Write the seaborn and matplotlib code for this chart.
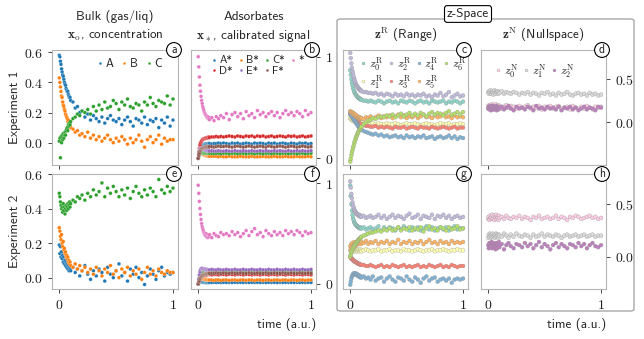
import numpy as np
import pandas as pd
import matplotlib
matplotlib.use('Agg')
import matplotlib.pyplot as plt
import seaborn as sns
from matplotlib.patches import FancyBboxPatch

# ── Data ───────────────────────────────────────────────────────────────────────
t = [0.000, 0.005, 0.010, 0.015, 0.020, 0.025, 0.030, 0.035, 0.040, 0.045,
     0.050, 0.055, 0.060, 0.065, 0.070, 0.075, 0.080, 0.085, 0.090, 0.095,
     0.100, 0.120, 0.140, 0.160, 0.180, 0.200, 0.225, 0.250, 0.275, 0.300,
     0.325, 0.350, 0.375, 0.400, 0.425, 0.450, 0.475, 0.500, 0.525, 0.550,
     0.575, 0.600, 0.625, 0.650, 0.675, 0.700, 0.725, 0.750, 0.775, 0.800,
     0.825, 0.850, 0.875, 0.900, 0.925, 0.950, 0.975, 1.000]

# (a) bulk, experiment 1
a_A = [.58, .57, .54, .52, .49, .47, .45, .44, .42, .40,
       .39, .38, .36, .35, .34, .34, .32, .31, .30, .30,
       .28, .27, .23, .24, .20, .21, .17, .19, .15, .18,
       .16, .14, .17, .13, .16, .18, .15, .14, .16, .12,
       .15, .17, .14, .11, .16, .15, .13, .17, .12, .15,
       .14, .16, .10, .15, .13, .17, .11, .15]
a_B = [.43, .40, .37, .34, .31, .30, .27, .25, .24, .22,
       .21, .19, .18, .17, .16, .14, .15, .13, .12, .11,
       .10, .09, .07, .08, .05, .06, .04, .07, .03, .05,
       .02, .04, .01, .03, .05, .02, .00, .03, .01, .04,
       .02, -.01, .03, .00, .02, .05, .01, -.03, .02, .04,
       .00, .02, .05, -.01, .03, .01, .02, .02]
a_C = [.01, .03, -.10, .04, .00, .05, .02, .06, .03, .05,
       .07, .05, .08, .09, .10, .08, .12, .11, .13, .12,
       .14, .16, .17, .19, .18, .21, .20, .22, .19, .24,
       .21, .25, .22, .27, .23, .24, .28, .26, .22, .27,
       .25, .29, .24, .23, .26, .25, .21, .27, .25, .30,
       .26, .24, .28, .27, .26, .31, .25, .29]

# (b) adsorbates, experiment 1
b_A = [.00, .04, .07, .09, .10, .11, .12, .125, .13, .13,
       .135, .135, .14, .14, .14, .14, .14, .145, .14, .145,
       .145, .14, .145, .145, .15, .145, .15, .145, .14, .15,
       .145, .15, .14, .145, .15, .145, .14, .15, .145, .15,
       .145, .14, .15, .145, .15, .14, .145, .15, .145, .14,
       .15, .145, .14, .15, .145, .15, .14, .145]
b_B = [.00, .04, .055, .06, .06, .055, .05, .045, .04, .04,
       .035, .035, .03, .03, .03, .025, .025, .025, .025, .02,
       .02, .02, .02, .02, .015, .02, .015, .015, .02, .015,
       .015, .015, .02, .015, .015, .015, .02, .015, .015, .015,
       .02, .015, .015, .015, .02, .015, .015, .015, .02, .015,
       .015, .015, .02, .015, .015, .015, .02, .015]
b_C = [.00, .02, .035, .045, .05, .055, .055, .055, .055, .055,
       .05, .05, .05, .05, .05, .05, .05, .05, .05, .05,
       .05, .05, .045, .05, .05, .045, .05, .05, .045, .05,
       .05, .045, .05, .05, .045, .05, .05, .045, .05, .05,
       .045, .05, .05, .045, .05, .05, .045, .05, .05, .045,
       .05, .05, .045, .05, .05, .045, .05, .05]
b_D = [.00, .06, .10, .13, .15, .16, .17, .18, .185, .19,
       .19, .195, .195, .20, .20, .20, .205, .20, .205, .21,
       .205, .21, .21, .215, .21, .215, .21, .215, .22, .215,
       .21, .22, .215, .21, .22, .215, .22, .21, .22, .215,
       .22, .21, .215, .22, .21, .215, .22, .215, .21, .22,
       .215, .22, .21, .215, .22, .21, .215, .22]
b_E = [.00, .04, .07, .09, .10, .10, .10, .095, .09, .09,
       .085, .085, .08, .08, .08, .075, .075, .075, .075, .07,
       .07, .075, .07, .07, .075, .07, .07, .075, .07, .07,
       .075, .07, .07, .075, .07, .07, .075, .07, .07, .075,
       .07, .075, .07, .07, .075, .07, .075, .07, .07, .075,
       .07, .07, .075, .07, .075, .07, .07, .075]
b_F = [.00, .03, .05, .07, .08, .09, .095, .10, .10, .105,
       .105, .11, .11, .11, .11, .115, .11, .115, .115, .11,
       .115, .115, .11, .115, .12, .115, .115, .12, .115, .11,
       .115, .12, .115, .11, .115, .12, .115, .11, .115, .12,
       .115, .11, .12, .115, .11, .115, .12, .115, .11, .115,
       .12, .115, .11, .115, .12, .115, .11, .115]
b_star = [1.00, .90, .80, .72, .66, .61, .57, .54, .51, .49,
          .47, .45, .44, .43, .42, .41, .40, .41, .39, .40,
          .38, .40, .37, .41, .39, .42, .40, .44, .38, .43,
          .45, .41, .44, .39, .46, .42, .44, .40, .47, .43,
          .45, .41, .44, .46, .42, .45, .40, .44, .47, .43,
          .45, .42, .46, .44, .41, .47, .43, .45]

# (c) range space, experiment 1
c_z0 = [.60, .55, .50, .46, .43, .40, .38, .36, .34, .33,
        .32, .31, .30, .29, .29, .28, .28, .27, .27, .26,
        .26, .25, .25, .24, .25, .24, .23, .25, .24, .22,
        .24, .25, .23, .24, .22, .25, .24, .23, .25, .24,
        .22, .24, .25, .23, .24, .22, .25, .24, .23, .24,
        .25, .22, .24, .23, .25, .24, .22, .24]
c_z1 = [.05, .04, .03, .04, .02, .03, .02, .01, .02, .01,
        .00, .01, .00, .01, -.01, .00, -.01, .00, -.01, -.01,
        .00, -.01, -.02, -.01, -.02, -.01, -.02, -.01, -.02, -.02,
        -.01, -.02, -.02, -.01, -.02, -.03, -.02, -.01, -.02, -.02,
        -.01, -.02, -.03, -.02, -.01, -.02, -.02, -.03, -.02, -.01,
        -.02, -.02, -.01, -.03, -.02, -.02, -.01, -.02]
c_z2 = [.80, .74, .68, .63, .59, .56, .53, .50, .48, .46,
        .44, .43, .42, .41, .40, .39, .38, .38, .37, .37,
        .36, .35, .35, .34, .34, .33, .34, .32, .33, .31,
        .33, .32, .30, .33, .31, .32, .30, .33, .31, .32,
        .30, .32, .31, .33, .30, .31, .29, .32, .31, .34,
        .30, .32, .35, .29, .31, .33, .30, .31]
c_z3 = [.10, .09, .08, .07, .06, .06, .05, .04, .03, .03,
        .02, .02, .01, .01, .00, .00, -.01, -.01, -.02, -.02,
        -.02, -.03, -.04, -.04, -.05, -.05, -.04, -.06, -.05, -.06,
        -.05, -.06, -.07, -.05, -.06, -.06, -.05, -.07, -.06, -.05,
        -.06, -.07, -.05, -.06, -.06, -.07, -.05, -.06, -.07, -.06,
        -.05, -.06, -.07, -.06, -.05, -.07, -.06, -.06]
c_z4 = [.10, .09, .08, .07, .06, .05, .04, .03, .02, .01,
        .00, -.01, -.02, -.03, -.04, -.05, -.06, -.06, -.07, -.08,
        -.08, -.10, -.11, -.12, -.13, -.14, -.13, -.15, -.14, -.16,
        -.15, -.17, -.16, -.15, -.17, -.16, -.18, -.15, -.17, -.16,
        -.18, -.16, -.17, -.15, -.18, -.17, -.16, -.19, -.17, -.16,
        -.18, -.17, -.15, -.18, -.16, -.19, -.17, -.18]
c_z5 = [.13, .12, .11, .12, .10, .11, .09, .10, .08, .09,
        .07, .08, .06, .07, .05, .06, .05, .06, .04, .05,
        .05, .04, .06, .05, .07, .05, .06, .08, .05, .07,
        .06, .08, .05, .07, .09, .06, .08, .05, .07, .06,
        .08, .05, .07, .09, .06, .07, .05, .08, .06, .07,
        .09, .06, .07, .05, .08, .06, .07, .06]
c_z6 = [-.45, -.42, -.38, -.35, -.32, -.29, -.27, -.24, -.22, -.20,
        -.18, -.16, -.15, -.13, -.12, -.10, -.09, -.08, -.07, -.06,
        -.05, -.02, .00, .02, .03, .05, .04, .06, .07, .06,
        .08, .07, .09, .06, .08, .10, .07, .09, .11, .08,
        .10, .08, .11, .09, .07, .10, .12, .09, .11, .10,
        .08, .11, .13, .09, .10, .12, .09, .12]

# (d) null space, experiment 1
d_z0 = [.19, .17, .20, .18, .16, .19, .21, .17, .18, .20,
        .16, .19, .18, .21, .17, .19, .16, .18, .20, .17,
        .19, .16, .18, .20, .17, .19, .18, .16, .19, .17,
        .18, .20, .16, .18, .17, .19, .15, .18, .17, .19,
        .16, .18, .19, .16, .17, .18, .15, .19, .17, .16,
        .18, .16, .19, .17, .15, .18, .17, .18]
d_z1 = [.35, .33, .36, .34, .37, .33, .35, .36, .34, .32,
        .35, .37, .34, .33, .36, .35, .34, .36, .33, .35,
        .34, .36, .33, .35, .34, .33, .35, .34, .32, .34,
        .33, .35, .32, .34, .33, .31, .34, .33, .35, .32,
        .33, .31, .34, .32, .33, .35, .32, .31, .33, .34,
        .32, .33, .31, .34, .32, .33, .31, .32]
d_z2 = [.16, .18, .15, .19, .17, .14, .18, .16, .19, .15,
        .17, .15, .18, .16, .19, .14, .17, .18, .15, .17,
        .16, .18, .15, .17, .19, .16, .14, .18, .16, .17,
        .15, .18, .17, .14, .19, .16, .17, .15, .18, .16,
        .17, .15, .18, .14, .17, .16, .18, .15, .17, .14,
        .16, .18, .15, .17, .16, .14, .18, .17]

# (e) bulk, experiment 2
e_A = [.19, .14, .18, .12, .15, .11, .13, .09, .12, .08,
       .10, .07, .09, .06, .08, .05, .07, .04, .06, .05,
       .04, .06, .03, .05, .01, .04, .07, .02, -.01, .04,
       .01, .05, .03, -.02, .06, .02, .00, .04, .08, .01,
       .03, -.02, .05, .02, .06, .00, .03, -.04, .01, .05,
       .02, -.01, .04, .06, .01, .03, .02, .03]
e_B = [.29, .27, .24, .22, .25, .20, .18, .21, .16, .17,
       .14, .15, .12, .13, .11, .12, .09, .10, .08, .09,
       .07, .06, .08, .05, .07, .04, .06, .03, .05, .02,
       .06, .04, .01, .05, .03, .07, .02, .04, .00, .05,
       .03, .06, .01, .04, .02, .05, -.01, .03, .06, .02,
       .04, .01, .05, .03, .02, .04, .03, .03]
e_C = [.49, .47, .44, .42, .40, .41, .38, .43, .39, .41,
       .37, .40, .42, .39, .41, .43, .40, .42, .44, .41,
       .43, .45, .44, .47, .46, .48, .45, .49, .47, .51,
       .48, .50, .55, .47, .52, .49, .53, .50, .47, .51,
       .48, .52, .46, .50, .53, .49, .47, .51, .48, .52,
       .50, .47, .57, .51, .49, .53, .50, .52]

# (f) adsorbates, experiment 2
f_A = [.00, .008, .012, .015, .017, .018, .018, .018, .017, .017,
       .017, .016, .016, .016, .016, .015, .016, .015, .016, .015,
       .016, .015, .016, .015, .016, .015, .016, .015, .016, .015,
       .016, .015, .016, .015, .016, .015, .016, .015, .016, .015,
       .016, .015, .016, .015, .016, .015, .016, .015, .016, .015,
       .016, .015, .016, .015, .016, .015, .016, .015]
f_B = [.00, .03, .045, .05, .055, .055, .055, .05, .05, .05,
       .05, .045, .045, .045, .045, .045, .04, .04, .04, .04,
       .04, .04, .035, .04, .04, .035, .04, .04, .035, .04,
       .04, .035, .04, .04, .035, .04, .04, .035, .04, .04,
       .035, .04, .04, .035, .04, .04, .035, .04, .04, .035,
       .04, .04, .035, .04, .04, .035, .04, .04]
f_C = [.00, .03, .06, .08, .09, .10, .105, .11, .11, .115,
       .115, .115, .12, .12, .12, .12, .12, .12, .12, .12,
       .12, .12, .125, .12, .12, .125, .12, .12, .125, .12,
       .12, .125, .12, .12, .125, .12, .12, .125, .12, .12,
       .125, .12, .12, .125, .12, .12, .125, .12, .12, .125,
       .12, .12, .125, .12, .12, .125, .12, .12]
f_D = [.00, .02, .04, .055, .065, .07, .075, .08, .08, .085,
       .085, .09, .09, .09, .09, .09, .095, .095, .095, .095,
       .095, .09, .095, .095, .09, .095, .095, .09, .095, .095,
       .09, .095, .095, .09, .095, .095, .09, .095, .095, .09,
       .095, .095, .09, .095, .095, .09, .095, .095, .09, .095,
       .095, .09, .095, .095, .09, .095, .095, .09]
f_E = [.00, .05, .09, .12, .14, .15, .155, .155, .15, .15,
       .15, .145, .145, .145, .14, .14, .145, .14, .14, .14,
       .14, .145, .14, .14, .145, .14, .14, .145, .14, .14,
       .145, .14, .14, .145, .14, .14, .145, .14, .14, .145,
       .14, .14, .145, .14, .14, .145, .14, .14, .145, .14,
       .14, .145, .14, .14, .145, .14, .14, .145]
f_F = [.00, .02, .035, .05, .06, .07, .075, .08, .085, .09,
       .09, .095, .095, .10, .10, .10, .10, .105, .105, .105,
       .105, .105, .105, .11, .105, .105, .11, .105, .105, .11,
       .105, .105, .11, .105, .105, .11, .105, .105, .11, .105,
       .105, .11, .105, .105, .11, .105, .105, .11, .105, .105,
       .11, .105, .105, .11, .105, .105, .11, .105]
f_star = [.98, .90, .82, .75, .69, .64, .60, .57, .55, .53,
          .51, .50, .49, .48, .50, .47, .49, .46, .48, .47,
          .49, .46, .50, .48, .47, .51, .49, .50, .48, .52,
          .49, .51, .47, .50, .53, .48, .52, .55, .49, .51,
          .47, .53, .50, .48, .52, .49, .51, .48, .53, .50,
          .52, .49, .53, .51, .48, .52, .50, .51]

# (g) range space, experiment 2
g_z0 = [.68, .58, .50, .44, .40, .37, .35, .33, .32, .31,
        .30, .30, .29, .29, .28, .28, .28, .27, .28, .27,
        .27, .28, .26, .27, .28, .26, .27, .29, .25, .28,
        .26, .28, .27, .25, .28, .26, .29, .27, .25, .28,
        .26, .28, .25, .27, .29, .26, .28, .25, .27, .28,
        .26, .28, .25, .27, .29, .26, .27, .27]
g_z1 = [.06, .05, .07, .06, .05, .06, .07, .06, .05, .06,
        .07, .06, .05, .06, .07, .06, .05, .06, .07, .06,
        .05, .06, .07, .06, .05, .06, .06, .07, .05, .06,
        .06, .07, .05, .06, .06, .05, .07, .06, .06, .05,
        .06, .07, .06, .05, .06, .06, .07, .05, .06, .06,
        .07, .06, .05, .06, .06, .07, .06, .06]
g_z2 = [.72, .66, .60, .56, .52, .49, .47, .45, .44, .43,
        .42, .41, .41, .40, .40, .39, .40, .39, .38, .39,
        .38, .39, .37, .38, .39, .37, .38, .40, .37, .39,
        .36, .38, .40, .37, .39, .38, .36, .39, .41, .37,
        .38, .40, .36, .39, .38, .37, .40, .36, .39, .38,
        .40, .37, .39, .36, .38, .39, .37, .38]
g_z3 = [.00, -.01, -.02, -.02, -.03, -.03, -.04, -.04, -.05, -.05,
        -.05, -.06, -.06, -.06, -.07, -.07, -.07, -.07, -.08, -.08,
        -.08, -.08, -.09, -.09, -.08, -.09, -.10, -.09, -.08, -.10,
        -.09, -.10, -.08, -.09, -.10, -.09, -.08, -.10, -.09, -.10,
        -.09, -.08, -.10, -.09, -.10, -.08, -.09, -.10, -.09, -.08,
        -.10, -.09, -.10, -.08, -.09, -.10, -.09, -.09]
g_z4 = [-.27, -.24, -.21, -.19, -.18, -.17, -.16, -.17, -.16, -.17,
        -.16, -.17, -.18, -.17, -.18, -.19, -.18, -.19, -.20, -.19,
        -.20, -.19, -.21, -.20, -.22, -.19, -.23, -.21, -.20, -.24,
        -.21, -.19, -.22, -.24, -.20, -.21, -.23, -.19, -.22, -.24,
        -.20, -.22, -.25, -.21, -.19, -.23, -.21, -.20, -.24, -.22,
        -.21, -.23, -.21, -.25, -.22, -.21, -.22, -.21]
g_z5 = [.10, .07, .12, .09, .13, .08, .11, .14, .10, .12,
        .13, .11, .14, .12, .13, .15, .12, .14, .13, .12,
        .14, .13, .15, .12, .14, .13, .15, .12, .14, .13,
        .15, .12, .14, .13, .16, .12, .14, .13, .15, .12,
        .14, .13, .15, .12, .14, .16, .13, .14, .12, .15,
        .13, .14, .12, .15, .13, .14, .13, .14]
g_z6 = [.00, .02, .04, .05, .07, .08, .09, .10, .11, .12,
        .13, .14, .14, .15, .16, .16, .17, .17, .18, .18,
        .19, .20, .21, .22, .23, .23, .24, .25, .24, .26,
        .25, .27, .25, .26, .28, .25, .27, .26, .28, .25,
        .27, .26, .28, .24, .27, .29, .26, .27, .25, .28,
        .27, .25, .28, .26, .27, .29, .26, .27]

# (h) null space, experiment 2
h_z0 = [.36, .38, .35, .39, .37, .36, .38, .40, .36, .37,
        .39, .35, .38, .37, .40, .36, .38, .37, .35, .39,
        .37, .38, .36, .39, .37, .36, .38, .37, .39, .36,
        .38, .37, .35, .38, .37, .39, .36, .37, .38, .36,
        .37, .39, .36, .38, .37, .35, .38, .37, .39, .38,
        .36, .37, .38, .39, .37, .38, .36, .37]
h_z1 = [.18, .21, .19, .22, .20, .18, .21, .19, .22, .20,
        .19, .21, .18, .20, .22, .19, .21, .20, .18, .21,
        .20, .19, .22, .20, .18, .21, .19, .22, .20, .19,
        .21, .20, .18, .21, .19, .20, .22, .19, .21, .20,
        .19, .21, .20, .18, .20, .21, .19, .20, .21, .19,
        .20, .21, .19, .20, .21, .19, .20, .20]
h_z2 = [.11, .08, .13, .09, .12, .10, .14, .08, .11, .13,
        .09, .12, .10, .07, .13, .11, .08, .12, .10, .14,
        .09, .12, .07, .11, .13, .10, .08, .12, .11, .09,
        .13, .10, .12, .08, .11, .14, .09, .12, .10, .07,
        .11, .13, .09, .12, .10, .08, .12, .11, .09, .13,
        .10, .12, .08, .11, .13, .10, .09, .11]

bulk_names = ['A', 'B', 'C']
ads_names = ['A*', 'B*', 'C*', 'D*', 'E*', 'F*', '*']
ads_legend_order = ['A*', 'D*', 'B*', 'E*', 'C*', 'F*', '*']
zR_names = [r'$z_%d^\mathrm{R}$' % i for i in range(7)]
zN_names = [r'$z_%d^\mathrm{N}$' % i for i in range(3)]

# ── Style ──────────────────────────────────────────────────────────────────────
sns.set_theme(style='ticks')
plt.rcParams['font.family'] = ['cmss10', 'DejaVu Sans']
plt.rcParams['mathtext.fontset'] = 'cm'
plt.rcParams['axes.unicode_minus'] = False
plt.rcParams['axes.edgecolor'] = '#b5b5b5'
plt.rcParams['axes.linewidth'] = 0.8
plt.rcParams['xtick.color'] = '#444444'
plt.rcParams['ytick.color'] = '#444444'
plt.rcParams['xtick.major.size'] = 3
plt.rcParams['ytick.major.size'] = 3
plt.rcParams['xtick.major.width'] = 0.7
plt.rcParams['ytick.major.width'] = 0.7

TAB = sns.color_palette('tab10')
SET3 = sns.color_palette('Set3')
bulk_cols = [TAB[0], TAB[1], TAB[2]]
ads_cols = [TAB[0], TAB[1], TAB[2], TAB[3], TAB[4], TAB[5], TAB[6]]
zR_cols = SET3[:7]
zN_cols = SET3[7:10]

TICKFONT = dict(fontsize=10, color='#222222')


def m(s):
    # tick labels in computer-modern serif through mathtext
    return '$%s$' % s


def panel(ax, names, series, colors, hue_order=None, z=False):
    df = pd.DataFrame(dict(zip(names, series)))
    df['t'] = t
    long = df.melt(id_vars='t', var_name='name', value_name='val')
    if z:
        kw = dict(s=8, edgecolor='0.55', linewidth=0.2)
    else:
        kw = dict(s=7, edgecolor='white', linewidth=0.15)
    sns.scatterplot(data=long, x='t', y='val', hue='name',
                    hue_order=hue_order or names,
                    palette=dict(zip(names, colors)), ax=ax, **kw)
    ax.set_xlabel('')
    ax.set_ylabel('')
    ax.set_xlim(-0.064, 1.044)
    for sp in ax.spines.values():
        sp.set_visible(True)


def circle_label(ax, letter, x=0.968):
    ax.text(x, 1.0, letter, transform=ax.transAxes, ha='center', va='center',
            fontsize=8.5, zorder=20, clip_on=False,
            bbox=dict(boxstyle='circle,pad=0.12', fc='white', ec='black', lw=0.8))


fig = plt.figure(figsize=(6.44, 3.39), dpi=100)
W, H = 644, 339
lefts = [52, 191, 343, 481]
widths = [126, 125, 125, 125]
tops = [50, 174]
axh = 115
axes = {}
letters = 'abcdefgh'
for r in range(2):
    for c in range(4):
        ax = fig.add_axes([lefts[c] / W, 1 - (tops[r] + axh) / H, widths[c] / W, axh / H])
        axes[letters[r * 4 + c]] = ax

# Big z-space frame
fig.patches.append(FancyBboxPatch((337 / W, 1 - 311 / H), (634 - 337) / W, (311 - 19) / H,
                                  boxstyle='round,pad=0,rounding_size=0.006',
                                  transform=fig.transFigure, fill=False,
                                  ec='#a8a8a8', lw=1.0, zorder=0))
fig.text(468 / W, 1 - 14 / H, 'z-Space', ha='center', va='center', fontsize=9.5,
         bbox=dict(boxstyle='round,pad=0.18,rounding_size=0.2', fc='white', ec='black', lw=0.8))

# bulk
for key, ser in (('a', [a_A, a_B, a_C]), ('e', [e_A, e_B, e_C])):
    panel(axes[key], bulk_names, ser, bulk_cols)
# adsorbates
for key, ser in (('b', [b_A, b_B, b_C, b_D, b_E, b_F, b_star]),
                 ('f', [f_A, f_B, f_C, f_D, f_E, f_F, f_star])):
    panel(axes[key], ads_names, ser, ads_cols, hue_order=ads_legend_order)
# range
for key, ser in (('c', [c_z0, c_z1, c_z2, c_z3, c_z4, c_z5, c_z6]),
                 ('g', [g_z0, g_z1, g_z2, g_z3, g_z4, g_z5, g_z6])):
    panel(axes[key], zR_names, ser, zR_cols, z=True)
# null
for key, ser in (('d', [d_z0, d_z1, d_z2]), ('h', [h_z0, h_z1, h_z2])):
    panel(axes[key], zN_names, ser, zN_cols, z=True)

# y limits / ticks
axes['a'].set_ylim(-0.148, 0.615)
axes['e'].set_ylim(-0.066, 0.602)
for k in 'ae':
    axes[k].set_yticks([0, 0.2, 0.4, 0.6], [m('0.0'), m('0.2'), m('0.4'), m('0.6')], **TICKFONT)
axes['b'].set_ylim(-0.066, 1.066)
axes['f'].set_ylim(-0.05, 1.092)
for k in 'bf':
    axes[k].yaxis.tick_right()
    axes[k].set_yticks([0, 1], [m('0'), m('1')], **TICKFONT)
axes['c'].set_ylim(-0.49, 0.834)
axes['d'].set_ylim(-0.49, 0.834)
axes['g'].set_ylim(-0.31, 0.79)
axes['h'].set_ylim(-0.31, 0.79)
for k in 'cg':
    axes[k].tick_params(left=False, labelleft=False)
for k in 'dh':
    axes[k].yaxis.tick_right()
    axes[k].set_yticks([0, 0.5], [m('0.0'), m('0.5')], **TICKFONT)

for k in 'abcd':
    axes[k].set_xticks([0, 1])
    axes[k].tick_params(labelbottom=False)
for k in 'efgh':
    axes[k].set_xticks([0, 1], [m('0'), m('1')], **TICKFONT)

for k in 'abcdefgh':
    circle_label(axes[k], k)

# titles
TFS = 9.5
axes['a'].set_title('Bulk (gas/liq)\n' + r'$\mathbf{x}_\mathrm{o}$, concentration',
                    fontsize=TFS, pad=8, linespacing=1.4)
axes['b'].set_title('Adsorbates\n' + r'$\mathbf{x}_*$, calibrated signal',
                    fontsize=TFS, pad=8, linespacing=1.4)
axes['c'].set_title(r'$\mathbf{z}^\mathrm{R}$ (Range)', fontsize=TFS, pad=8)
axes['d'].set_title(r'$\mathbf{z}^\mathrm{N}$ (Nullspace)', fontsize=TFS, pad=8)

axes['a'].set_ylabel('Experiment 1', fontsize=9.5, labelpad=2)
axes['e'].set_ylabel('Experiment 2', fontsize=9.5, labelpad=2)
for k in 'fh':
    axes[k].set_xlabel('time (a.u.)', loc='right', fontsize=9.5, labelpad=4)

# legends
LEG = dict(frameon=False, title=None, handletextpad=0.0, borderaxespad=0.3,
           markerscale=0.75, handlelength=1.0)
sns.move_legend(axes['a'], 'upper right', ncol=3, bbox_to_anchor=(0.94, 1.0),
                fontsize=8.5, columnspacing=0.4, **LEG)
sns.move_legend(axes['b'], 'upper center', ncol=4, bbox_to_anchor=(0.52, 1.02),
                fontsize=8, columnspacing=0.2, labelspacing=0.05, **LEG)
sns.move_legend(axes['c'], 'upper center', ncol=4, bbox_to_anchor=(0.55, 1.03),
                fontsize=8.5, columnspacing=0.15, labelspacing=0.0, **LEG)
sns.move_legend(axes['d'], 'upper left', ncol=3, bbox_to_anchor=(0.02, 0.97),
                fontsize=8.5, columnspacing=0.2, **LEG)
for k in 'efgh':
    if axes[k].get_legend() is not None:
        axes[k].get_legend().remove()

fig.savefig('out.png', dpi=100)
